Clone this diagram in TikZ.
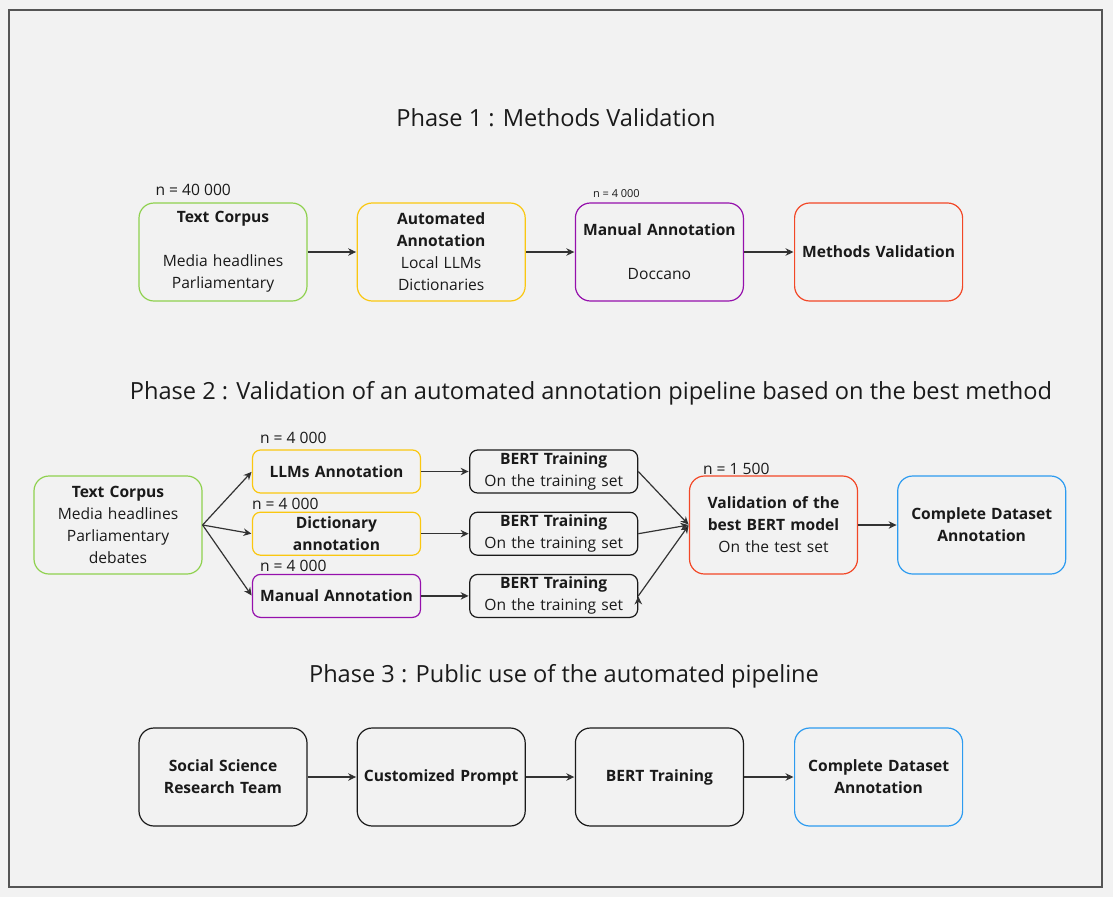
\documentclass[tikz,border=0pt]{standalone}
\usepackage{fontspec}
\setmainfont{Open Sans}
\usepackage{tikz}
\usetikzlibrary{positioning}
\usetikzlibrary{arrows.meta}

\definecolor{bggray}{HTML}{F2F2F2}
\definecolor{framegray}{HTML}{555555}
\definecolor{arrowgray}{HTML}{333333}
\definecolor{boxblack}{HTML}{1A1A1A}
\definecolor{mirogreen}{HTML}{8FD14F}
\definecolor{miroyellow}{HTML}{FAC710}
\definecolor{miropurple}{HTML}{9510AC}
\definecolor{mirored}{HTML}{F24726}
\definecolor{miroblue}{HTML}{2D9BF0}

\begin{document}
\begin{tikzpicture}[x=1pt,y=-1pt,>={Stealth[length=8pt,width=7.5pt]},shorten >=0.5pt,
	node distance=49pt,
	main node/.style={draw,rounded corners=15pt,line width=1.2pt,minimum width=168pt,
		minimum height=98pt,text width=166pt,inner xsep=1pt,inner ysep=0pt,align=center,
		text=boxblack,font=\fontsize{15.6}{22}\selectfont},
	small node/.style={main node,rounded corners=8pt,minimum height=43pt},
	title node/.style={text=boxblack,font=\fontsize{23.6}{28}\selectfont},
	count node/.style={inner sep=0pt,text=boxblack,font=\fontsize{15.6}{18}\selectfont},
	arrow/.style={->,draw=arrowgray,line width=1.2pt}]

	% background and frame
	\fill[bggray] (0,0) rectangle (1113,897);
	\useasboundingbox (0,0) rectangle (1113,897);
	\draw[framegray,line width=1.2pt] (9,10) rectangle (1102,887);

	% Phase 1
	\node[title node] (t1) at (556,118) {Phase 1 : Methods Validation};
	\node[main node,draw=mirogreen] (corpus1) at (223,252)
		{\textbf{Text Corpus}\\[22pt]Media headlines\\Parliamentary};
	\node[main node,draw=miroyellow] (auto1) [right=of corpus1]
		{\textbf{Automated}\\\textbf{Annotation}\\Local LLMs\\Dictionaries};
	\node[main node,draw=miropurple] (manual1) [right=of auto1]
		{\textbf{Manual Annotation}\\[22pt]Doccano};
	\node[main node,draw=mirored] (valid1) [right=50pt of manual1]
		{\textbf{Methods Validation}};
	\node[count node] (n1) [above right=7pt and 17pt of corpus1.north west] {n = 40 000};
	\node[count node,font=\fontsize{11}{13}\selectfont] (n2)
		[above right=5pt and 18pt of manual1.north west] {n = 4 000};

	\path[arrow]
	(corpus1) edge (auto1)
	(auto1) edge (manual1)
	(manual1) edge (valid1);

	% Phase 2
	\node[title node] (t2) at (591,393)
		{Phase 2 : Validation of an automated annotation pipeline based on the best method};
	\node[main node,draw=mirogreen] (corpus2) at (118,525)
		{\textbf{Text Corpus}\\Media headlines\\Parliamentary\\debates};
	\node[small node,draw=miroyellow] (llm) at (336.5,471.5) {\textbf{LLMs Annotation}};
	\node[small node,draw=miroyellow] (dict) [below=18pt of llm]
		{\textbf{Dictionary}\\\textbf{annotation}};
	\node[small node,draw=miropurple] (manual2) [below=18pt of dict]
		{\textbf{Manual Annotation}};
	\node[small node,draw=boxblack] (bert1) [right=48pt of llm]
		{\textbf{BERT Training}\\On the training set};
	\node[small node,draw=boxblack] (bert2) [right=48pt of dict]
		{\textbf{BERT Training}\\On the training set};
	\node[small node,draw=boxblack] (bert3) [right=48pt of manual2]
		{\textbf{BERT Training}\\On the training set};
	\node[main node,draw=mirored] (valid2) at (773.5,525)
		{\textbf{Validation of the}\\\textbf{best BERT model}\\On the test set};
	\node[main node,draw=miroblue] (full2) [right=39pt of valid2]
		{\textbf{Complete Dataset}\\\textbf{Annotation}};
	\node[count node] (n3) [above right=6pt and 8pt of llm.north west] {n = 4 000};
	\node[count node] (n4) [above right=2pt and 0pt of dict.north west] {n = 4 000};
	\node[count node] (n5) [above right=2pt and 8pt of manual2.north west] {n = 4 000};
	\node[count node] (n6) [above right=1pt and 14pt of valid2.north west] {n = 1 500};

	\path[arrow]
	(corpus2.east) edge (llm.west)
	(corpus2.east) edge (dict.west)
	(corpus2.east) edge (manual2.west)
	(llm) edge (bert1)
	(dict) edge (bert2)
	(manual2) edge (bert3)
	(bert1.east) edge (valid2.west)
	(bert2.east) edge (valid2.west)
	(bert3.east) edge (valid2.west)
	(valid2) edge (full2);

	% Phase 3
	\node[title node] (t3) at (564,676) {Phase 3 : Public use of the automated pipeline};
	\node[main node,draw=boxblack] (team) at (223,777)
		{\textbf{Social Science}\\\textbf{Research Team}};
	\node[main node,draw=boxblack] (prompt) [right=of team] {\textbf{Customized Prompt}};
	\node[main node,draw=boxblack] (bert4) [right=of prompt] {\textbf{BERT Training}};
	\node[main node,draw=miroblue] (full3) [right=50pt of bert4]
		{\textbf{Complete Dataset}\\\textbf{Annotation}};

	\path[arrow]
	(team) edge (prompt)
	(prompt) edge (bert4)
	(bert4) edge (full3);
\end{tikzpicture}
\end{document}
